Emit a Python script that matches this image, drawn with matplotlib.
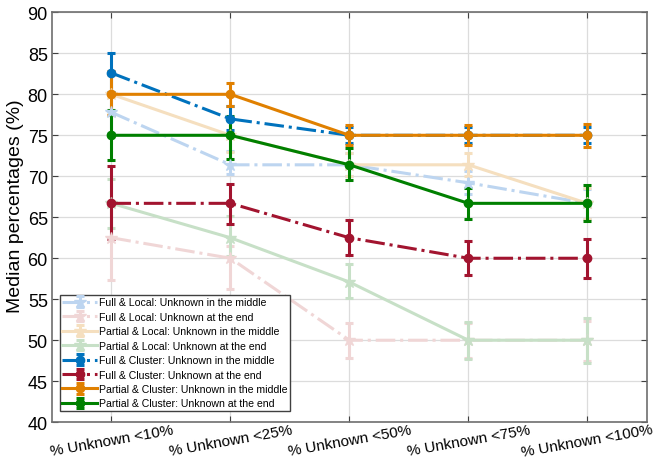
import numpy as np
from matplotlib import pyplot as plt

plt.rcParams['font.family'] = ['Liberation Sans', 'DejaVu Sans']

# categories on the x axis
categories = ['% Unknown <10%', '% Unknown <25%', '% Unknown <50%', '% Unknown <75%', '% Unknown <100%']

# series: median values, lower and upper error ends
labels = ['Full & Local: Unknown in the middle',
          'Full & Local: Unknown at the end',
          'Partial & Local: Unknown in the middle',
          'Partial & Local: Unknown at the end',
          'Full & Cluster: Unknown in the middle',
          'Full & Cluster: Unknown at the end',
          'Partial & Cluster: Unknown in the middle',
          'Partial & Cluster: Unknown at the end']

fl_mid = [77.8, 71.4, 71.4, 69.2, 66.7]
fl_mid_lo = [75.3, 70.3, 70.0, 67.8, 64.8]
fl_mid_hi = [80.2, 73.1, 72.8, 70.6, 68.5]

fl_end = [62.5, 60.0, 50.0, 50.0, 50.0]
fl_end_lo = [57.3, 56.3, 47.8, 47.8, 47.5]
fl_end_hi = [66.5, 61.5, 52.1, 52.1, 52.4]

pl_mid = [80.0, 75.0, 71.4, 71.4, 66.7]
pl_mid_lo = [77.6, 73.0, 70.0, 70.0, 64.8]
pl_mid_hi = [82.4, 77.0, 72.8, 72.8, 68.6]

pl_end = [66.7, 62.5, 57.1, 50.0, 50.0]
pl_end_lo = [63.7, 60.3, 55.1, 47.7, 47.2]
pl_end_hi = [69.7, 65.2, 59.3, 52.2, 52.7]

fc_mid = [82.6, 77.0, 75.0, 75.0, 75.0]
fc_mid_lo = [80.3, 75.6, 74.0, 74.0, 74.0]
fc_mid_hi = [85.0, 78.6, 76.0, 76.0, 76.0]

fc_end = [66.7, 66.7, 62.5, 60.0, 60.0]
fc_end_lo = [62.4, 64.2, 60.4, 57.9, 57.6]
fc_end_hi = [71.3, 69.1, 64.7, 62.1, 62.3]

pc_mid = [80.0, 80.0, 75.0, 75.0, 75.0]
pc_mid_lo = [77.5, 78.6, 73.8, 73.8, 73.6]
pc_mid_hi = [82.8, 81.4, 76.2, 76.2, 76.4]

pc_end = [75.0, 75.0, 71.4, 66.7, 66.7]
pc_end_lo = [72.0, 72.1, 69.5, 64.8, 64.5]
pc_end_hi = [78.1, 77.4, 73.4, 68.6, 68.9]

series = [(fl_mid, fl_mid_lo, fl_mid_hi), (fl_end, fl_end_lo, fl_end_hi),
          (pl_mid, pl_mid_lo, pl_mid_hi), (pl_end, pl_end_lo, pl_end_hi),
          (fc_mid, fc_mid_lo, fc_mid_hi), (fc_end, fc_end_lo, fc_end_hi),
          (pc_mid, pc_mid_lo, pc_mid_hi), (pc_end, pc_end_lo, pc_end_hi)]

colors = ['#bdd5f0', '#f0d6d6', '#f5dfbf', '#c7e0c7',
          '#0072bd', '#a2142f', '#e08000', '#008000']
styles = ['-.', '-.', '-', '-', '-.', '-.', '-', '-']
markers = ['*', '*', '*', '*', 'o', 'o', 'o', 'o']

fig = plt.figure(figsize=(6.58, 4.60), dpi=100)
ax = fig.add_axes([0.079, 0.080, 0.904, 0.891])

x = np.arange(1, len(categories) + 1)
for (vals, lo, hi), lab, c, ls, mk in zip(series, labels, colors, styles, markers):
    vals = np.array(vals)
    yerr = [vals - np.array(lo), np.array(hi) - vals]
    ax.errorbar(x, vals, yerr=yerr, color=c, linestyle=ls, linewidth=2.2,
                marker=mk, markersize=6 if mk == 'o' else 9,
                elinewidth=2.2, capsize=3, capthick=2.2, label=lab)

ax.set_xlim(0.5, 5.5)
ax.set_ylim(40, 90)
ax.set_yticks(range(40, 91, 5))
ax.set_xticks(x)
ax.set_xticklabels(categories, rotation=10, ha='center', fontsize=11)
ax.set_ylabel('Median percentages (%)', fontsize=14)
ax.yaxis.set_label_coords(-0.047, 0.53)
ax.tick_params(axis='y', which='major', labelsize=13, pad=3)
ax.tick_params(axis='x', which='major', pad=0)
ax.tick_params(axis='both', direction='in', top=True, right=True,
               length=4, color='#404040')
ax.grid(True, color='#dcdcdc', linewidth=0.9)
ax.set_axisbelow(True)
for s in ax.spines.values():
    s.set_color('#6e6e6e')
    s.set_linewidth(1.2)

leg = ax.legend(loc='lower left', bbox_to_anchor=(0.013, 0.027), fontsize=7.6,
                handlelength=3.3, handletextpad=0.2, borderpad=0.25,
                labelspacing=0.42, borderaxespad=0, fancybox=False,
                framealpha=1)
leg.get_frame().set_edgecolor('#404040')
leg.get_frame().set_linewidth(1.0)

fig.savefig('out.png', dpi=100)
